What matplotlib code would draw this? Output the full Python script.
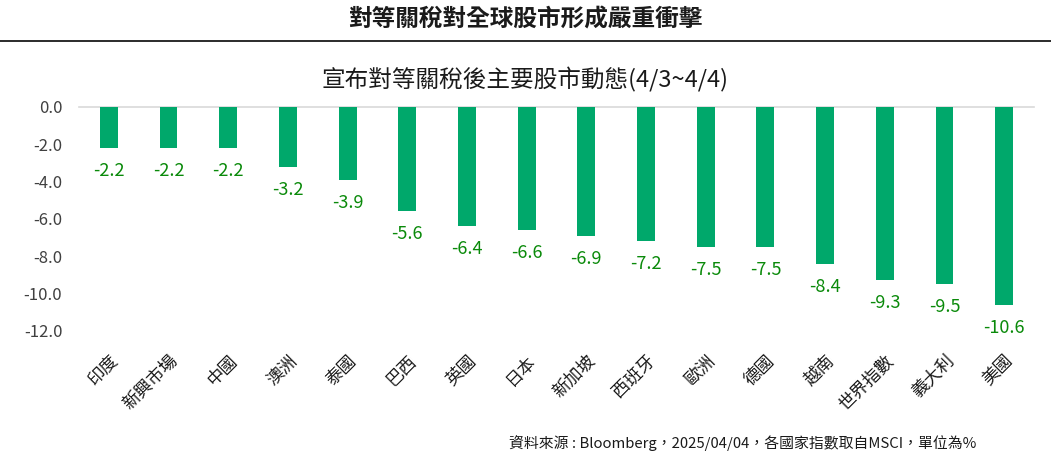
import matplotlib.pyplot as plt
import numpy as np

plt.rcParams['font.family'] = ['Noto Sans CJK TC', 'DejaVu Sans']

# 各市場 4/3~4/4 漲跌幅 (%)
markets = ['印度', '新興市場', '中國', '澳洲', '泰國', '巴西', '英國', '日本',
           '新加坡', '西班牙', '歐洲', '德國', '越南', '世界指數', '義大利', '美國']
changes = [-2.2, -2.2, -2.2, -3.2, -3.9, -5.6, -6.4, -6.6,
           -6.9, -7.2, -7.5, -7.5, -8.4, -9.3, -9.5, -10.6]
yticks = [0, -2, -4, -6, -8, -10, -12]

bar_color = '#00A86B'
label_color = '#0A8A0A'

fig = plt.figure(figsize=(10.51, 4.59), dpi=100)
ax = fig.add_axes([79 / 1051, 1 - 330.7 / 459, (1034 - 79) / 1051, (330.7 - 107) / 459])

x = np.arange(len(markets))
ax.bar(x, changes, width=0.3, color=bar_color, zorder=2)

for xi, v in zip(x, changes):
    ax.annotate(f'{v:.1f}', (xi, v), xytext=(0, -16.6), textcoords='offset points',
                ha='center', va='center', fontsize=13, color=label_color)

ax.axhline(0, color='#D9D9D9', linewidth=1.2, clip_on=False, zorder=1)

ax.set_xlim(-0.5, len(markets) - 0.5)
ax.set_ylim(-12, 0)
ax.set_yticks(yticks)
ax.set_yticklabels([f'{t:.1f}' for t in yticks], fontsize=12, color='#404040')
ax.set_xticks(x)
ax.set_xticklabels(markets, rotation=45, ha='right', rotation_mode='anchor',
                   fontsize=12.5, color='#1a1a1a')
ax.tick_params(axis='y', length=0, pad=12)
ax.tick_params(axis='x', length=0, pad=15)
for s in ax.spines.values():
    s.set_visible(False)

fig.text(0.5, 1 - 20 / 459, '對等關稅對全球股市形成嚴重衝擊', ha='center', va='center',
         fontsize=17, fontweight='bold', color='#1a1a1a')
fig.add_artist(plt.Line2D([0, 1], [1 - 41 / 459, 1 - 41 / 459], color='#1a1a1a', linewidth=1.3))
fig.text(0.5, 1 - 80 / 459, '宣布對等關稅後主要股市動態(4/3~4/4)', ha='center', va='center',
         fontsize=17, color='#1a1a1a')
fig.text(976 / 1051, 1 - 443 / 459, '資料來源 : Bloomberg，2025/04/04，各國家指數取自MSCI，單位為%',
         ha='right', va='center', fontsize=10.7, color='#1a1a1a')

fig.savefig('out.png', dpi=100)
